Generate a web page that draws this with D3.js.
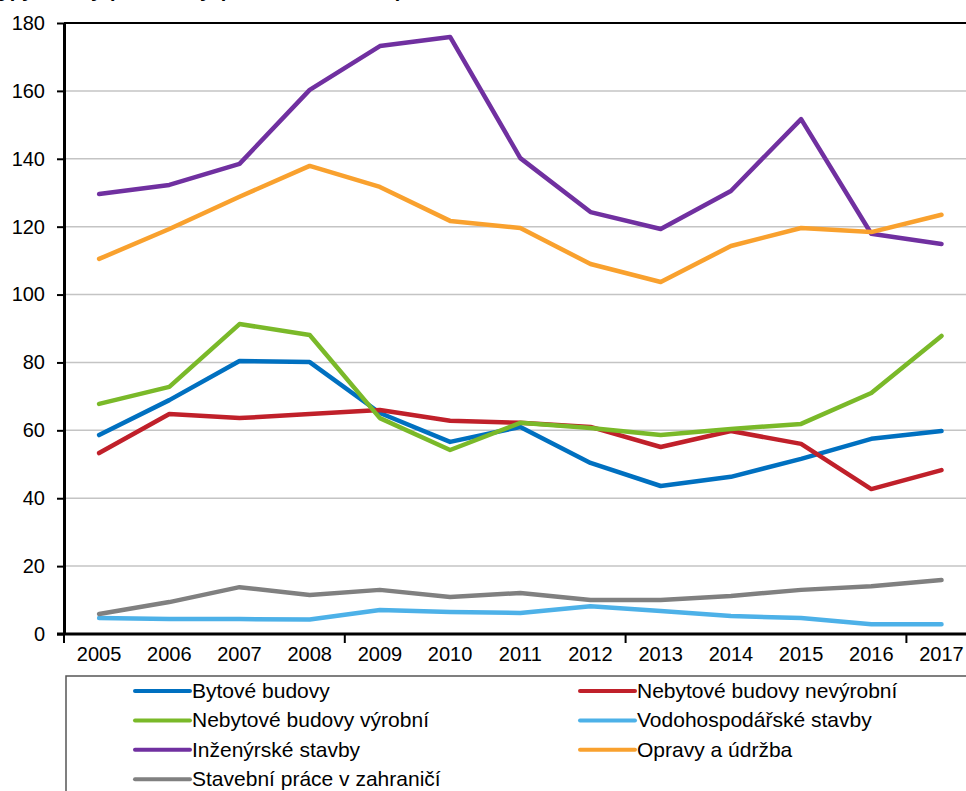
<!DOCTYPE html>
<html>
<head>
<meta charset="utf-8">
<title>stavebni prace podle typu stavby</title>
<script src="https://cdn.jsdelivr.net/npm/d3@7"></script>
<style>
    body{
        margin:0;
        background:#fff;
        font-family:"Liberation Sans", Arial, sans-serif;
    }
    svg{display:block;}
    .grid line{stroke:#c4c4c4;stroke-width:1.5;}
    .axis text{font-size:20px;fill:#000;}
    .axis path, .axis line{stroke:#000;}
</style>
</head>
<body>
<div id="chart"></div>
<script>

var years = [2005,2006,2007,2008,2009,2010,2011,2012,2013,2014,2015,2016,2017]

var bytove       = [58.6,68.9,80.4,80.1,65.1,56.6,61.0,50.4,43.6,46.3,51.6,57.5,59.8]
var nevyrobni    = [53.3,64.8,63.6,64.8,66.0,62.8,62.2,61.0,55.1,59.8,56.0,42.7,48.3]
var vyrobni      = [67.8,72.8,91.3,88.1,63.6,54.2,62.2,60.7,58.6,60.4,61.9,71.0,87.8]
var vodohosp     = [4.7,4.4,4.4,4.3,7.1,6.5,6.2,8.2,6.8,5.3,4.7,2.9,2.9]
var inzenyrske   = [129.6,132.3,138.5,160.3,173.2,175.9,140.2,124.3,119.3,130.5,151.7,117.9,114.9]
var opravy       = [110.5,119.3,128.8,137.9,131.7,121.7,119.6,109.0,103.7,114.3,119.6,118.4,123.5]
var zahranici    = [5.9,9.4,13.8,11.5,13.0,10.9,12.1,10.0,10.0,11.2,13.0,14.1,15.9]

var yTicks = [0,20,40,60,80,100,120,140,160,180]

var series = [
    {name:"Bytové budovy", values:bytove, color:"#0070c0"},
    {name:"Nebytové budovy nevýrobní", values:nevyrobni, color:"#c0202a"},
    {name:"Nebytové budovy výrobní", values:vyrobni, color:"#7ab929"},
    {name:"Vodohospodářské stavby", values:vodohosp, color:"#4db1e8"},
    {name:"Inženýrské stavby", values:inzenyrske, color:"#7030a0"},
    {name:"Opravy a údržba", values:opravy, color:"#f9a12e"},
    {name:"Stavební práce v zahraničí", values:zahranici, color:"#808080"}
]

var width = 966, height = 791
var plotLeft = 64, plotTop = 23, plotBottom = 634
var band = 70.2

var svg = d3.select("#chart").append("svg").attr("width",width).attr("height",height)

// cut-off title at the very top (only the descenders peek in)
svg.append("text")
    .attr("x",-12).attr("y",-3)
    .style("font-weight","bold").style("font-size","20px")
    .text("Typy stavby (stálé ceny, průměr 2005 = 100)")

var x = d3.scaleBand().domain(years).range([plotLeft, plotLeft + band*years.length])
var y = d3.scaleLinear().domain([0,180]).range([plotBottom, plotTop])

// gridlines
svg.append("g").attr("class","grid")
    .selectAll("line").data(yTicks.filter(function(d){ return d>0 && d<180 }))
    .enter().append("line")
    .attr("x1",plotLeft).attr("x2",width)
    .attr("y1",function(d){ return y(d) }).attr("y2",function(d){ return y(d) })

// top frame line
svg.append("line")
    .attr("x1",plotLeft).attr("x2",width)
    .attr("y1",y(180)).attr("y2",y(180))
    .attr("stroke","#000").attr("stroke-width",2)

var yAxis = d3.axisLeft(y).tickValues(yTicks).tickSize(7).tickPadding(12).tickSizeOuter(0)
svg.append("g").attr("class","axis")
    .attr("transform","translate(" + plotLeft + ",0)")
    .call(yAxis)
    .call(function(g){
        g.select(".domain").attr("stroke-width",3)
        g.selectAll(".tick line").attr("stroke-width",2)
    })

// lines
var line = d3.line()
    .x(function(d,i){ return x(years[i]) + x.bandwidth()/2 })
    .y(function(d){ return y(d) })

svg.selectAll(".serie")
    .data(series)
    .enter().append("path")
    .attr("class","serie")
    .attr("fill","none")
    .attr("stroke",function(d){ return d.color })
    .attr("stroke-width",4.5)
    .attr("stroke-linejoin","round")
    .attr("stroke-linecap","round")
    .attr("d",function(d){ return line(d.values) })

// x axis: labels on every year, tick marks on every 4th band edge
var xAxis = d3.axisBottom(x).tickSize(0).tickPadding(13)
svg.append("g").attr("class","axis")
    .attr("transform","translate(0," + plotBottom + ")")
    .call(xAxis)
    .call(function(g){
        g.select(".domain").remove()
    })

svg.append("line")
    .attr("x1",plotLeft-7).attr("x2",width)
    .attr("y1",plotBottom).attr("y2",plotBottom)
    .attr("stroke","#000").attr("stroke-width",3)

svg.selectAll(".xtick")
    .data(years.filter(function(d,i){ return i % 4 == 0 }))
    .enter().append("line")
    .attr("class","xtick")
    .attr("x1",function(d){ return x(d) }).attr("x2",function(d){ return x(d) })
    .attr("y1",plotBottom).attr("y2",plotBottom+9)
    .attr("stroke","#000").attr("stroke-width",2)

// legend
svg.append("rect")
    .attr("x",66).attr("y",676)
    .attr("width",960).attr("height",200)
    .attr("fill","none").attr("stroke","#555").attr("stroke-width",1.5)

var legend = svg.selectAll(".legend")
    .data(series)
    .enter().append("g")
    .attr("class","legend")
    .attr("transform",function(d,i){
        return "translate(" + (i % 2 == 0 ? 135 : 580) + "," + (691 + Math.floor(i/2)*29.4) + ")"
    })

legend.append("line")
    .attr("x1",0).attr("x2",55)
    .attr("stroke",function(d){ return d.color })
    .attr("stroke-width",4)
    .attr("stroke-linecap","round")

legend.append("text")
    .attr("x",57).attr("y",7)
    .style("font-size","21px")
    .text(function(d){ return d.name })

</script>
</body>
</html>
